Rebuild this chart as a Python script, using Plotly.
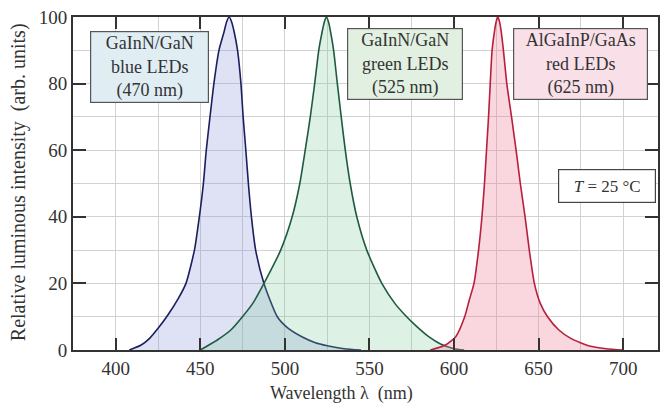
import plotly.graph_objects as go

# ---- data ----
blue_wl = [408, 415, 420, 425, 430.8, 437, 441.5, 446.5, 449.4, 451.8, 453.5, 455.7, 458, 461, 464, 465.5, 467,
           468.5, 470, 472, 474, 475.3, 476.9, 478.4, 480.2, 482.7, 487.6, 495.5, 502, 510, 518, 525, 535, 545]
blue_int = [0, 1.5, 3.5, 6.5, 10.5, 15.5, 20, 30, 40, 50, 60, 70, 80, 90, 95.5, 98.5, 100,
            98.5, 95.5, 90, 80, 70, 60, 50, 40, 30, 20, 10, 6.5, 4, 2.2, 1.3, 0.4, 0]

green_wl = [450, 460, 468, 474.9, 481, 487.6, 497.5, 504.3, 508.8, 512, 515, 517.6, 520, 522, 523.3, 524.5,
            525.8, 527, 528.8, 531, 533.3, 535.7, 538.6, 542.5, 548.4, 557.3, 565, 571, 578, 585, 592, 600, 606]
green_int = [0, 3, 6, 10, 14, 20, 30, 40, 50, 60, 70, 80, 90, 95.5, 98.5, 100,
             98.5, 95.5, 90, 80, 70, 60, 50, 40, 30, 20, 14, 10.5, 7, 4, 1.8, 0.4, 0]

red_wl = [586, 595, 601, 606.3, 609, 611.8, 614.5, 616.5, 618, 619.2, 620.4, 621.4, 622.5, 624, 625, 625.9,
          626.8, 627.8, 629.2, 631.2, 634, 636.7, 639.2, 642, 644.5, 647.5, 651, 655.3, 662, 669, 680, 690, 700]
red_int = [0, 1.5, 4, 10, 15, 20, 30, 40, 50, 60, 70, 80, 90, 96, 98.8, 100,
           98.8, 96, 90, 80, 70, 60, 50, 40, 30, 20, 14, 10, 6, 3.5, 1.2, 0.4, 0]

x_ticks = [400, 450, 500, 550, 600, 650, 700]
y_ticks = [0, 20, 40, 60, 80, 100]

box_labels = ["GaInN/GaN<br>blue LEDs<br>(470 nm)",
              "GaInN/GaN<br>green LEDs<br>(525 nm)",
              "AlGaInP/GaAs<br>red LEDs<br>(625 nm)"]
box_x = [419.7, 571.2, 675]
box_y = [85.1, 85.9, 85.9]
box_fill = ["#e0eef4", "#e2f0e2", "#f9dfe8"]
box_w = [113, 110, 129]

temp_label = "<i>T</i> = 25 °C"
x_title = "Wavelength λ  (nm)"
y_title = "Relative luminous intensity  (arb. units)"

FONT = "Liberation Serif"
INK = "#333333"

fig = go.Figure()

series = [
    (blue_wl, blue_int, "#1c1f5e", "rgba(140,150,215,0.28)"),
    (green_wl, green_int, "#1f5a42", "rgba(120,200,150,0.25)"),
    (red_wl, red_int, "#b81f3c", "rgba(240,120,145,0.30)"),
]
for wl, inten, lc, fc in series:
    fig.add_trace(go.Scatter(
        x=wl, y=inten, mode="lines",
        line=dict(color=lc, width=1.6, shape="spline", smoothing=0.6),
        fill="tozeroy", fillcolor=fc, hoverinfo="skip", showlegend=False))

annotations = []
for txt, bx, by, bf, bw in zip(box_labels, box_x, box_y, box_fill, box_w):
    annotations.append(dict(
        x=bx, y=by, xref="x", yref="y", text=txt, showarrow=False,
        xanchor="center", yanchor="middle", align="center",
        font=dict(family=FONT, size=18, color=INK),
        bgcolor=bf, bordercolor="#555555", borderwidth=1.2, borderpad=2,
        width=bw, height=66))

annotations.append(dict(
    x=690.5, y=49.4, xref="x", yref="y", text=temp_label, showarrow=False,
    xanchor="center", yanchor="middle", align="center",
    font=dict(family=FONT, size=17, color=INK),
    bgcolor="white", bordercolor="#444444", borderwidth=1.2, borderpad=3,
    width=90, height=26))

annotations.append(dict(
    x=(342 - 73) / 587, y=(350 - 393) / 333, xref="paper", yref="paper", text=x_title,
    showarrow=False, xanchor="center", yanchor="middle",
    font=dict(family=FONT, size=18, color=INK)))

annotations.append(dict(
    x=(18 - 73) / 587, y=(350 - 182) / 333, xref="paper", yref="paper", text=y_title,
    showarrow=False, xanchor="center", yanchor="middle", textangle=-90,
    font=dict(family=FONT, size=20, color=INK)))

fig.update_layout(
    width=660, height=405,
    margin=dict(l=73, r=0, t=17, b=55),
    paper_bgcolor="white", plot_bgcolor="white",
    annotations=annotations,
    font=dict(family=FONT, color=INK),
)

fig.update_xaxes(
    range=[374.7, 720.6], tickmode="array", tickvals=x_ticks,
    ticks="inside", ticklen=12, tickwidth=1.5, tickcolor="#333333",
    showline=True, linecolor="#333333", linewidth=2, mirror="ticks",
    showgrid=True, gridcolor="#d2d2d2", gridwidth=1,
    minor=dict(dtick=25, tick0=375, showgrid=True, gridcolor="#d2d2d2", gridwidth=1, ticks=""),
    tickfont=dict(family=FONT, size=19, color=INK),
    zeroline=False,
)
fig.update_yaxes(
    range=[0, 100], tickmode="array", tickvals=y_ticks,
    ticks="inside", ticklen=13, tickwidth=1.5, tickcolor="#333333",
    showline=True, linecolor="#333333", linewidth=2, mirror="ticks",
    showgrid=True, gridcolor="#d2d2d2", gridwidth=1,
    minor=dict(dtick=10, showgrid=True, gridcolor="#d2d2d2", gridwidth=1, ticks=""),
    tickfont=dict(family=FONT, size=19, color=INK),
    zeroline=False,
)

fig.write_html("out.html")
